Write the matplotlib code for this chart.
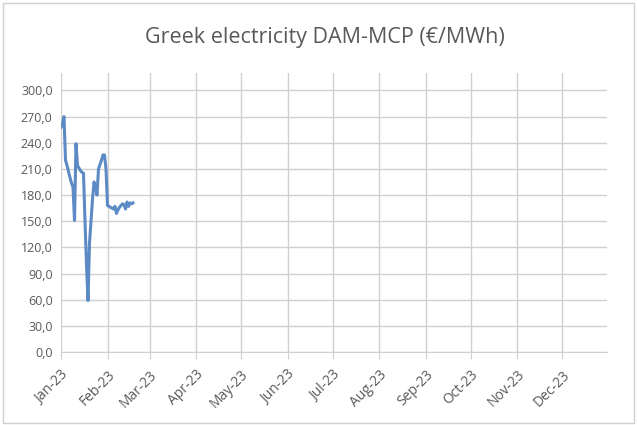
import matplotlib
matplotlib.use('Agg')
import matplotlib.pyplot as plt
import matplotlib.dates as mdates
import pandas as pd
from matplotlib.patches import Rectangle

# Greek DAM-MCP daily prices, 1 Jan - 17 Feb 2023 (EUR/MWh)
start_date = '2023-01-01'
prices = [258, 262, 270, 220, 214, 207, 200, 194, 189, 151,
          239, 214, 211, 208, 206, 205, 150, 100, 59, 125,
          150, 175, 195, 190, 180, 210, 215, 220, 226, 226,
          210, 168, 167, 166, 165, 164, 167, 159, 163, 166,
          168, 170, 169, 164, 172, 167, 171, 170, 171]
month_ticks = pd.date_range('2023-01-01', '2023-12-01', freq='MS')
y_ticks = list(range(0, 301, 30))

dates = pd.date_range(start_date, periods=len(prices), freq='D')

plt.rcParams['font.family'] = ['Open Sans', 'DejaVu Sans']
grey = '#595959'
grid_c = '#d0d0d0'

fig = plt.figure(figsize=(6.37, 4.25), dpi=100)
ax = fig.add_axes([61 / 637, 1 - 352 / 425, (607 - 61) / 637, (352 - 73) / 425])

ax.plot(dates, prices, color='#5b8ac5', lw=2.2, solid_joinstyle='round')

ax.set_xlim(pd.Timestamp('2023-01-01'), pd.Timestamp('2023-12-31'))
ax.set_ylim(0, 320)
ax.set_yticks(y_ticks)
ax.set_yticklabels([f'{v:.1f}'.replace('.', ',') for v in y_ticks])
ax.set_xticks(month_ticks)
ax.xaxis.set_major_formatter(mdates.DateFormatter('%b-%y'))
plt.setp(ax.get_xticklabels(), rotation=45, ha='right', rotation_mode='anchor')

for y in y_ticks:
    ax.axhline(y, color=grid_c, lw=1, zorder=0)
for d in month_ticks:
    ax.axvline(d, color=grid_c, lw=1, zorder=0)

for s in ['top', 'right', 'left']:
    ax.spines[s].set_visible(False)
ax.spines['bottom'].set_color(grid_c)
ax.tick_params(axis='x', colors=grey, labelsize=10, length=5, color=grid_c, pad=6)
ax.tick_params(axis='y', colors=grey, labelsize=9, length=0, pad=6)

fig.text(325 / 637, 1 - 37 / 425, 'Greek electricity DAM-MCP (€/MWh)',
         ha='center', va='center', fontsize=15.5, color=grey)

fig.patches.append(Rectangle((0.004, 0.004), 0.992, 0.99, transform=fig.transFigure,
                             fill=False, ec='#d0d0d0', lw=1))

fig.savefig('out.png', dpi=100)
